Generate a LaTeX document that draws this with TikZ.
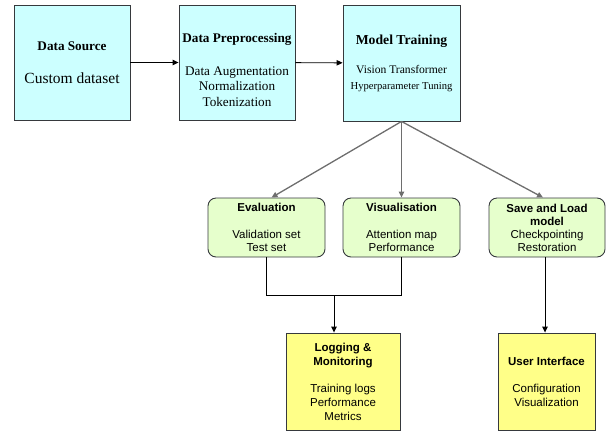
\documentclass[tikz,border=0pt]{standalone}
\usepackage{fontspec}
\setmainfont{Liberation Serif}
\setsansfont{Liberation Sans}
\usetikzlibrary{arrows.meta}
\definecolor{paleaqua}{HTML}{CCFFFF}
\definecolor{palelime}{HTML}{E6FFCC}
\definecolor{paleyellow}{HTML}{FFFF88}
\definecolor{edgegray}{HTML}{36393D}
\definecolor{linkgray}{HTML}{6E6E6E}

\begin{document}
\begin{tikzpicture}[x=1pt, y=-1pt,
            block/.style = {draw=edgegray, line width=0.9pt, align=center, inner sep=2pt},
            stage/.style = {block, fill=paleaqua, font=\fontsize{13.2}{15.5}\selectfont},
            task/.style = {block, fill=palelime, rounded corners=8pt, font=\sffamily\fontsize{11.5}{13}\selectfont,
                           minimum height=59pt},
            output/.style = {block, fill=paleyellow, font=\sffamily\fontsize{11.5}{14}\selectfont,
                             minimum height=97pt},
            flow/.style = {line width=0.9pt, -{Triangle[length=6pt, width=5.5pt]}},
            fan/.style = {linkgray, line width=1.3pt, -{Triangle[length=6pt, width=5.5pt]}},
            ]
            \useasboundingbox (0, 0) rectangle (609, 432);

            \node[stage, minimum width=116pt, minimum height=115pt] (src) at (72, 62.5)
                {\textbf{Data Source}\\[17pt]{\fontsize{15.5}{17}\selectfont Custom dataset}};
            \node[stage, minimum width=116pt, minimum height=115pt] (prep) at (237, 62.5)
                {\rule{0pt}{24pt}\textbf{Data Preprocessing}\\[17pt]Data Augmentation\\Normalization\\Tokenization};
            \node[stage, minimum width=117pt, minimum height=116pt] (train) at (401.5, 63)
                {{\fontsize{13.7}{15}\selectfont\textbf{Model Training}}\\[14pt]%
                 {\fontsize{11.6}{14}\selectfont Vision Transformer}\\%
                 {\fontsize{10.6}{14}\selectfont Hyperparameter Tuning}};

            \node[task, minimum width=117pt] (eval) at (266.5, 227.5)
                {\textbf{Evaluation}\\[14pt]Validation set\\Test set};
            \node[task, minimum width=117pt] (vis) at (401.5, 227.5)
                {\textbf{Visualisation}\\[14pt]Attention map\\Performance};
            \node[task, minimum width=116pt] (save) at (547, 227.5)
                {\textbf{Save and Load}\\\textbf{model}\\Checkpointing\\Restoration};

            \node[output, minimum width=114pt] (logmon) at (343, 381.5)
                {\textbf{Logging \&}\\\textbf{Monitoring}\\[13pt]Training logs\\Performance\\Metrics};
            \node[output, minimum width=97pt] (ui) at (546.5, 381.5)
                {\textbf{User Interface}\\[13pt]Configuration\\Visualization};

            \coordinate (join) at (334, 295);

            \draw[flow] (src) -- (prep);
            \draw[flow] (prep) -- (train);

            \draw[fan] (train.south) -- ([xshift=5pt]eval.north);
            \draw[fan] (train.south) -- (vis.north);
            \draw[fan] (train.south) -- ([xshift=-4pt]save.north);

            \draw[line width=0.9pt] (eval.south) |- (join) -| (vis.south);
            \draw[flow] (join) -- (join |- logmon.north);
            \draw[flow] ([xshift=-2pt]save.south) -- ([xshift=-2pt]save.south |- ui.north);

        \end{tikzpicture}
\end{document}
